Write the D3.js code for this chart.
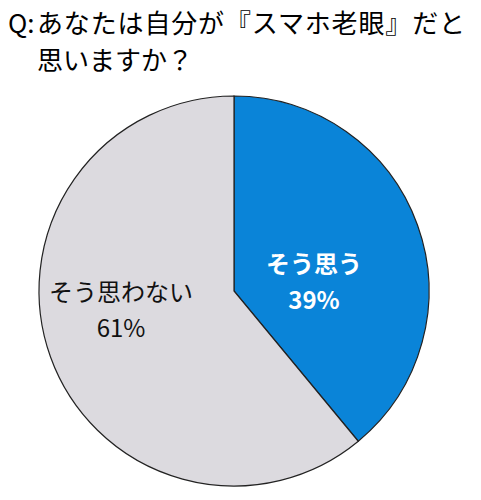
<!DOCTYPE html>
<html><head><meta charset="utf-8">
<script src="https://cdn.jsdelivr.net/npm/d3@7"></script>
<style>body{margin:0;background:#fff}text{font-family:"Noto Sans CJK JP",sans-serif}</style>
</head><body>
<script>
const categories = ["そう思う", "そう思わない"];
const values = [39, 61];
const colors = ["#0a84d8", "#dcdadf"];
const titleLines = ["あなたは自分が『スマホ老眼』だと", "思いますか？"];

const w = 481, h = 500;
const cx = 234, cy = 291, r = 195;
const svg = d3.select("body").append("svg").attr("width", w).attr("height", h);

//title
svg.append("text").attr("x", 8).attr("y", 33).attr("font-size", 26).text("Q:");
titleLines.forEach((t, i) => {
    svg.append("text").attr("x", 37).attr("y", 33 + i * 37)
        .attr("font-size", 26).attr("textLength", i == 0 ? 428 : null)
        .text(t);
});

const pie = d3.pie().sort(null)(values);
const arc = d3.arc().innerRadius(0).outerRadius(r);
const g = svg.append("g").attr("transform", "translate(" + cx + "," + cy + ")");
g.selectAll("path").data(pie).enter().append("path")
    .attr("d", arc)
    .attr("fill", (d, i) => colors[i])
    .attr("stroke", "#222").attr("stroke-width", 1.2);

//labels
const labelPos = [[80, -18], [-113, 10]];
pie.forEach((d, i) => {
    const t = g.append("text").attr("text-anchor", "middle")
        .attr("font-size", 24)
        .attr("fill", i == 0 ? "#fff" : "#111")
        .attr("font-weight", i == 0 ? "bold" : "normal");
    t.append("tspan").attr("x", labelPos[i][0]).attr("y", labelPos[i][1]).text(categories[i]);
    t.append("tspan").attr("x", labelPos[i][0]).attr("y", labelPos[i][1] + 36).text(values[i] + "%");
});
</script>
</body></html>
